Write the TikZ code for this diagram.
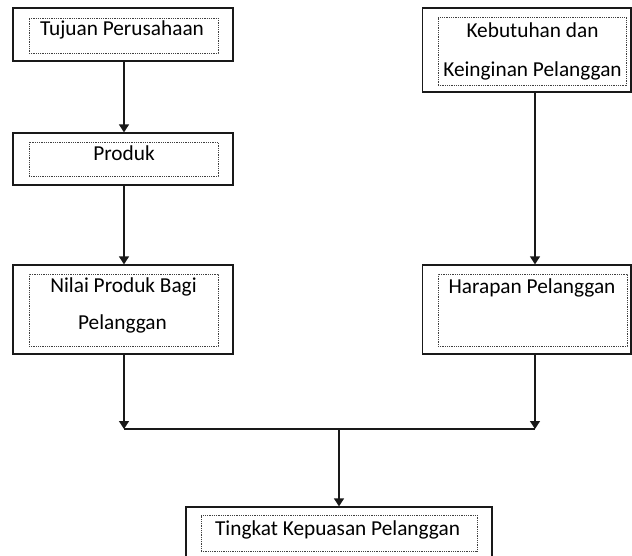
\documentclass[tikz,border=0pt]{standalone}
\usepackage{fontspec}
\setmainfont{Carlito}
\usetikzlibrary{arrows.meta}
\begin{document}
\begin{tikzpicture}[x=1pt,y=-1pt,
  outerbox/.style 2 args={draw=black!90, line width=1.3pt, minimum width=#1pt, minimum height=#2pt, inner sep=0pt},
  innerbox/.style 2 args={draw=black!75, line width=0.9pt, dash pattern=on 0.9pt off 0.9pt, minimum width=#1pt, minimum height=#2pt, inner sep=0pt},
  label/.style={anchor=base, inner sep=0pt, font=\fontsize{21.3}{26}\selectfont},
  conn/.style={draw=black!90, line width=1.3pt},
  arr/.style={conn, -{Triangle[width=10pt,length=8pt]}}
]
\useasboundingbox (0,0) rectangle (632,555);
% Left column
\node[outerbox={220}{53}] (tujuan) at (123,34.5) {};
\node[innerbox={189}{35}] (tujuanIn) at (123.5,35.5) {};
\node[label] (tujuanT) at (122,35) {Tujuan Perusahaan};

\node[outerbox={220}{52}] (produk) at (123,159) {};
\node[innerbox={189}{34}] (produkIn) at (123.5,159) {};
\node[label] (produkT) at (124,160) {Produk};

\node[outerbox={220}{89}] (nilai) at (123,309.5) {};
\node[innerbox={189}{72}] (nilaiIn) at (123.5,310) {};
\node[label] (nilaiT1) at (123.5,292.5) {Nilai Produk Bagi};
\node[label] (nilaiT2) at (122.5,329) {Pelanggan};

% Right column
\node[outerbox={208.5}{84}] (kebutuhan) at (526.75,50) {};
\node[innerbox={188}{68}] (kebutuhanIn) at (532,51) {};
\node[label] (kebutuhanT1) at (532.5,37.3) {Kebutuhan dan};
\node[label] (kebutuhanT2) at (532.5,76) {Keinginan Pelanggan};

\node[outerbox={208.5}{89}] (harapan) at (526.75,309.5) {};
\node[innerbox={189}{72}] (harapanIn) at (532.5,310) {};
\node[label] (harapanT) at (532,293) {Harapan Pelanggan};

% Bottom (outer frame runs past the lower edge of the picture)
\node[outerbox={306}{54}] (tingkat) at (339,534) {};
\node[innerbox={276}{36}] (tingkatIn) at (339,533) {};
\node[label] (tingkatT) at (337.5,535) {Tingkat Kepuasan Pelanggan};

% Connectors
\coordinate (lx) at (124,0);
\coordinate (rx) at (535,0);
\coordinate (jl) at (124,429);
\coordinate (jr) at (535,429);
\coordinate (jm) at (339,429);
\draw[arr] (tujuan.south -| lx) -- (produk.north -| lx);
\draw[arr] (produk.south -| lx) -- (nilai.north -| lx);
\draw[arr] (kebutuhan.south -| rx) -- (harapan.north -| rx);
\draw[arr] (nilai.south -| jl) -- (jl);
\draw[arr] (harapan.south -| jr) -- (jr);
\draw[conn] (jl) -- (jr);
\draw[arr] (jm) -- (tingkat.north -| jm);
\end{tikzpicture}
\end{document}
